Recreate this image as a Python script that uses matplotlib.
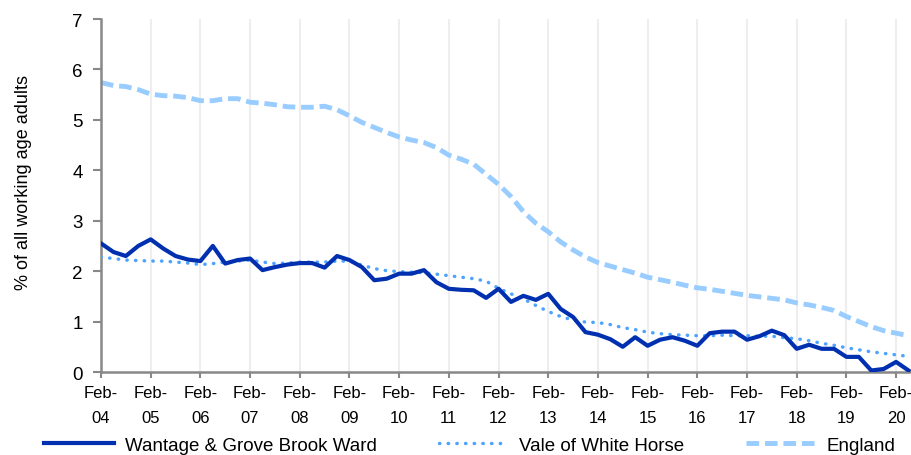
import numpy as np
import matplotlib
matplotlib.use('Agg')
import matplotlib.pyplot as plt

plt.rcParams['font.family'] = ['Liberation Sans', 'DejaVu Sans']

# quarterly, Feb-04 .. May-20
years = [f'{y:02d}' for y in range(4, 21)]
tick_labels = [f'Feb-\n{y}' for y in years]

wantage = [2.55, 2.38, 2.30, 2.50, 2.63, 2.45, 2.30, 2.23,
           2.20, 2.50, 2.15, 2.22, 2.25, 2.02, 2.08, 2.13,
           2.16, 2.16, 2.07, 2.30, 2.22, 2.08, 1.82, 1.85,
           1.95, 1.95, 2.02, 1.78, 1.65, 1.63, 1.62, 1.47,
           1.65, 1.39, 1.51, 1.43, 1.55, 1.25, 1.09, 0.79,
           0.74, 0.65, 0.50, 0.69, 0.52, 0.64, 0.69, 0.62,
           0.52, 0.77, 0.80, 0.80, 0.64, 0.71, 0.82, 0.73,
           0.46, 0.54, 0.46, 0.46, 0.30, 0.30, 0.03, 0.06,
           0.20, 0.03]

vale = [2.28, 2.25, 2.22, 2.21, 2.20, 2.20, 2.18, 2.16,
        2.13, 2.15, 2.18, 2.20, 2.22, 2.18, 2.15, 2.16,
        2.18, 2.18, 2.18, 2.20, 2.20, 2.12, 2.05, 2.01,
        1.99, 1.98, 1.97, 1.94, 1.91, 1.88, 1.85, 1.80,
        1.66, 1.55, 1.45, 1.32, 1.20, 1.10, 1.03, 0.99,
        0.98, 0.94, 0.88, 0.84, 0.79, 0.76, 0.74, 0.73,
        0.72, 0.72, 0.73, 0.72, 0.72, 0.71, 0.71, 0.68,
        0.66, 0.62, 0.57, 0.53, 0.48, 0.44, 0.40, 0.37,
        0.34, 0.31]

england = [5.74, 5.68, 5.66, 5.60, 5.51, 5.48, 5.47, 5.44,
           5.38, 5.38, 5.42, 5.42, 5.35, 5.33, 5.30, 5.26,
           5.25, 5.25, 5.27, 5.20, 5.08, 4.95, 4.85, 4.75,
           4.66, 4.60, 4.55, 4.45, 4.30, 4.22, 4.12, 3.92,
           3.72, 3.48, 3.18, 2.95, 2.78, 2.58, 2.42, 2.28,
           2.17, 2.10, 2.03, 1.96, 1.88, 1.83, 1.78, 1.72,
           1.67, 1.64, 1.60, 1.56, 1.52, 1.49, 1.46, 1.43,
           1.37, 1.33, 1.28, 1.22, 1.10, 1.00, 0.90, 0.82,
           0.77, 0.72]

x = np.arange(len(wantage))

W, H = 911, 456
fig = plt.figure(figsize=(W / 100, H / 100), dpi=100)
ax = fig.add_axes([101 / W, 1 - 373 / H, 1 - 101 / W, (373 - 20) / H])

ax.plot(x, england, color='#99ccff', lw=3.5, ls=(0, (2.6, 1.2)), label='England', zorder=2)
ax.plot(x, vale, color='#4da3ff', lw=2.5, ls=(0, (0.1, 2.4)), dash_capstyle='round',
        label='Vale of White Horse', zorder=3)
ax.plot(x, wantage, color='#0030b0', lw=3, label='Wantage & Grove Brook Ward', zorder=4)

ax.set_xlim(0, 65.2)
ax.set_ylim(0, 7)
ax.set_yticks(range(8))
ax.set_xticks(np.arange(0, 65, 4))
ax.set_xticklabels(tick_labels, linespacing=1.9)
ax.tick_params(axis='x', labelsize=12, color='#888888', length=4, width=1.5, pad=5)
ax.tick_params(axis='y', labelsize=13.5, color='#888888', length=6, width=1.5, pad=7)
ax.grid(axis='x', color='#eeeeee', lw=1.5)
ax.set_axisbelow(True)
for s in ['top', 'right']:
    ax.spines[s].set_visible(False)
for s in ['left', 'bottom']:
    ax.spines[s].set_color('#888888')
    ax.spines[s].set_linewidth(1.8)
fig.text(24 / W, 1 - 182 / H, '% of all working age adults', rotation=90,
         ha='center', va='center', fontsize=13)

h, l = ax.get_legend_handles_labels()
order = [2, 1, 0]
fig.legend([h[i] for i in order], [l[i] for i in order], loc='center',
           bbox_to_anchor=(470 / W, 1 - 446 / H), ncol=3, frameon=False, fontsize=13.5,
           handlelength=3.7, columnspacing=3.3, handletextpad=0.6)

fig.savefig('out.png', dpi=100)
